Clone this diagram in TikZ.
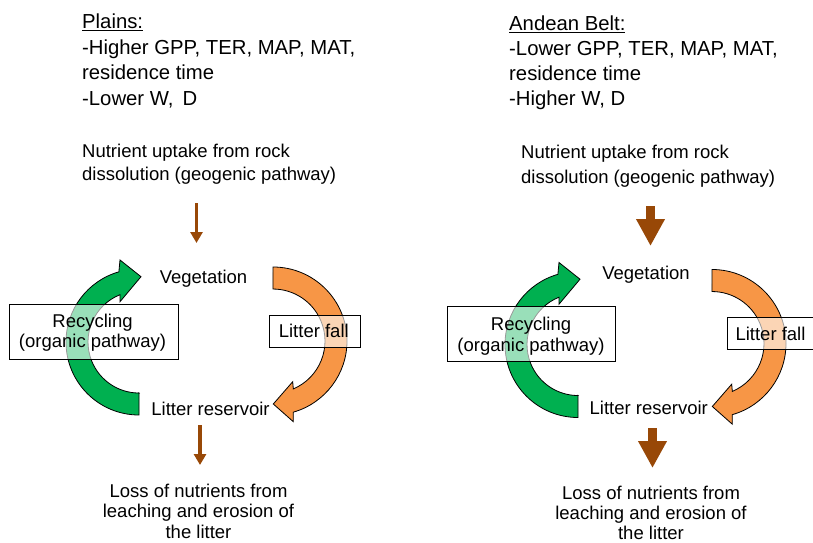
\documentclass[tikz,border=0pt]{standalone}
\usepackage{fontspec}
\setmainfont{Liberation Sans}
\usetikzlibrary{arrows.meta}
\definecolor{ringgreen}{HTML}{00B050}
\definecolor{ringorange}{HTML}{F79646}
\definecolor{flowbrown}{HTML}{984807}
\tikzset{
  hdtext/.style={anchor=base west, inner sep=0pt, font=\fontsize{20.3}{24}\selectfont},
  lbl/.style={anchor=base, inner sep=0pt, font=\fontsize{18.5}{22}\selectfont},
  lblw/.style={anchor=base west, inner sep=0pt, font=\fontsize{18.5}{22}\selectfont},
  ringgreenst/.style={fill=ringgreen, draw=black, line width=0.8pt, line join=miter},
  ringorangest/.style={fill=ringorange, draw=black, line width=0.8pt, line join=miter},
  boxst/.style={draw=black, line width=0.9pt, fill=white, fill opacity=0.6, inner sep=0pt},
  thinflow/.style={draw=flowbrown, line width=3.5pt, -{Triangle[width=12pt,length=11pt]}},
  thickflow/.style={draw=flowbrown, line width=9pt, -{Triangle[width=27pt,length=27pt]}},
  greenring/.pic={
    \path[ringgreenst] (139,149) -- (139,127) arc[start angle=270,end angle=106,radius=73]
      -- (120,282) -- (141,265.3) -- (120,240.3) -- (120,247.3)
      arc[start angle=111.9,end angle=270,radius=51] -- cycle;
  },
  orangering/.pic={
    \path[ringorangest] (273,275) arc[start angle=90,end angle=-74.1,radius=74]
      -- (293.3,120.3) -- (273.3,138) -- (292.7,160.3) -- (293.3,153.1)
      arc[start angle=-67,end angle=90,radius=52] -- cycle;
  }
}
\begin{document}
\begin{tikzpicture}[x=1pt,y=1pt]
\clip (0,0) rectangle (813,542);
\fill[white] (0,0) rectangle (813,542);

% ---------- rings ----------
\pic at (0,0) {greenring};
\pic at (0,0) {orangering};
\pic at (439,-2.5) {greenring};
\pic at (439,-2.5) {orangering};

% ---------- boxes ----------
\node[boxst, minimum width=169pt, minimum height=55pt] (recL) at (93.5,210.5) {};
\node[boxst, minimum width=91.4pt, minimum height=32.3pt] (lfL) at (315,210.8) {};
\node[boxst, minimum width=168.4pt, minimum height=55pt] (recR) at (531.5,207.8) {};
\node[boxst, minimum width=91.4pt, minimum height=32pt] (lfR) at (773,208.7) {};

% ---------- left header ----------
\node[hdtext] (hL1) at (82,513) {\underline{Plains:}};
\node[hdtext] (hL2) at (82,487.5) {-Higher GPP, TER, MAP, MAT,};
\node[hdtext] (hL3) at (82,462) {residence time};
\node[hdtext] (hL4) at (82,436) {-Lower W,\ \,D};

% ---------- right header ----------
\node[hdtext] (hR1) at (509,511) {\underline{Andean Belt:}};
\node[hdtext] (hR2) at (509,486) {-Lower GPP, TER, MAP, MAT,};
\node[hdtext] (hR3) at (509,461) {residence time};
\node[hdtext] (hR4) at (509,436.5) {-Higher W, D};

% ---------- nutrient uptake ----------
\node[lblw] (nuL1) at (82,385) {Nutrient uptake from rock};
\node[lblw] (nuL2) at (82,362) {dissolution (geogenic pathway)};
\node[lblw] (nuR1) at (521,383.5) {Nutrient uptake from rock};
\node[lblw] (nuR2) at (521,359) {dissolution (geogenic pathway)};

% ---------- cycle labels ----------
\node[lbl] (vegL) at (203.5,258.5) {Vegetation};
\node[lbl] (vegR) at (646,263) {Vegetation};
\node[lbl] (litL) at (210.5,126.3) {Litter reservoir};
\node[lbl] (litR) at (648.8,128) {Litter reservoir};

\node[lbl] (recLt1) at (92.5,214.7) {Recycling};
\node[lbl] (recLt2) at (92.5,194.3) {(organic pathway)};
\node[lbl] (recRt1) at (531,212) {Recycling};
\node[lbl] (recRt2) at (531,190.3) {(organic pathway)};
\node[lbl] (lfLt) at (313.8,204.7) {Litter fall};
\node[lbl] (lfRt) at (770.5,201.3) {Litter fall};

% ---------- loss ----------
\node[lbl] (loL1) at (198.5,44.7) {Loss of nutrients from};
\node[lbl] (loL2) at (198.5,24.5) {leaching and erosion of};
\node[lbl] (loL3) at (198.5,4) {the litter};
\node[lbl] (loR1) at (651,42.5) {Loss of nutrients from};
\node[lbl] (loR2) at (651,22.5) {leaching and erosion of};
\node[lbl] (loR3) at (651,2.8) {the litter};

% ---------- flow arrows ----------
\coordinate (fL1s) at (196.5,339);
\coordinate (fL1e) at (196.5,299);
\coordinate (fL2s) at (200,117);
\coordinate (fL2e) at (200,77);
\coordinate (fR1s) at (650.5,336);
\coordinate (fR1e) at (650.5,296);
\coordinate (fR2s) at (652.5,114);
\coordinate (fR2e) at (652.5,74);
\draw[thinflow] (fL1s) -- (fL1e);
\draw[thinflow] (fL2s) -- (fL2e);
\draw[thickflow] (fR1s) -- (fR1e);
\draw[thickflow] (fR2s) -- (fR2e);
\end{tikzpicture}
\end{document}
